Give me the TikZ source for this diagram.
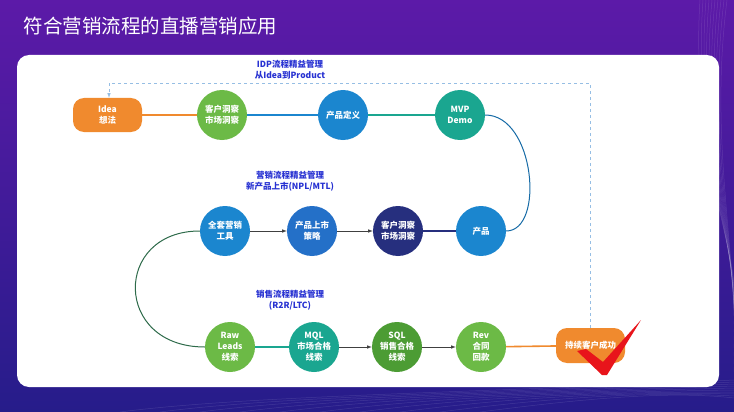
\documentclass[tikz,border=0pt]{standalone}
\usepackage{fontspec}
\setmainfont{Noto Sans CJK SC}
\usetikzlibrary{arrows}
\definecolor{bgtop}{RGB}{92,26,168}
\definecolor{bgbot}{RGB}{38,28,138}
\definecolor{ideaorange}{RGB}{240,138,46}
\definecolor{leafgreen}{RGB}{108,186,70}
\definecolor{deepgreen}{RGB}{76,156,52}
\definecolor{skyblue}{RGB}{27,134,207}
\definecolor{midblue}{RGB}{36,112,200}
\definecolor{navyblue}{RGB}{38,47,126}
\definecolor{seateal}{RGB}{26,166,144}
\definecolor{labelblue}{RGB}{40,50,210}
\definecolor{dashblue}{RGB}{150,190,228}
\definecolor{arcgreen}{RGB}{46,107,74}
\definecolor{checkred}{RGB}{232,20,27}
\newcommand*{\rnd}{12pt}

\begin{document}
\begin{tikzpicture}[x=1pt,y=-1pt]
\tikzset{stage/.style={circle,minimum size=50pt,inner sep=0pt,fill=#1,text=white,align=center,font=\fontsize{8.5}{11}\selectfont\bfseries}};
\tikzset{pill/.style={rectangle,rounded corners=11pt,minimum width=69pt,minimum height=34pt,inner sep=0pt,fill=ideaorange,text=white,align=center,font=\fontsize{8.5}{11}\selectfont\bfseries}};
\tikzset{flowlabel/.style={text=labelblue,align=center,font=\fontsize{8.5}{11}\selectfont\bfseries}};
\tikzset{link/.style={line width=1.6pt,draw=#1}};
\tikzset{push/.style={draw=black!75,line width=0.6pt,-latex}};
\tikzset{feedback/.style={draw=dashblue,dashed,line width=0.6pt,-latex}};

    % background and panel
    \shade[top color=bgtop,bottom color=bgbot] (0,0) rectangle (734,412);
    \useasboundingbox (0,0) rectangle (734,412);
    \foreach \k in {0,...,9}
        \draw[white,opacity=0.12,line width=0.5pt] (700+3*\k,0) .. controls (690+2*\k,150) and (740,260) .. (734,300+8*\k);
    \foreach \k in {0,...,9}
        \draw[white,opacity=0.12,line width=0.5pt] (120+40*\k,412) .. controls (250+40*\k,395) and (500+20*\k,392) .. (734,380+2*\k);
    \fill[white,rounded corners=\rnd] (17,55) rectangle (719,387);
    \node[anchor=west,text=white,font=\fontsize{19.5}{22}\selectfont] (title) at (20,26) {符合营销流程的直播营销应用};

    % IDP
    \node[pill] (idea) at (107.5,115) {Idea\\想法};
    \node[stage=leafgreen] (insight) at (222,115) {客户洞察\\市场洞察};
    \node[stage=skyblue] (define) at (343,115) {产品定义};
    \node[stage=seateal] (mvp) at (460,115) {MVP\\Demo};
    \node[flowlabel] (idplbl) at (290,70) {IDP流程精益管理\\从Idea到Product};

    % NPL/MTL
    \node[stage=skyblue] (tools) at (225,231) {全套营销\\工具};
    \node[stage=midblue] (launch) at (312,231) {产品上市\\策略};
    \node[stage=navyblue] (insight2) at (398,231) {客户洞察\\市场洞察};
    \node[stage=skyblue] (product) at (481,231) {产品};
    \node[flowlabel] (npllbl) at (290,181) {营销流程精益管理\\新产品上市(NPL/MTL)};

    % LTC
    \node[stage=leafgreen] (raw) at (230,347) {Raw\\Leads\\线索};
    \node[stage=seateal] (mql) at (314,347) {MQL\\市场合格\\线索};
    \node[stage=deepgreen] (sql) at (397,347) {SQL\\销售合格\\线索};
    \node[stage=leafgreen] (rev) at (481,347) {Rev\\合同\\回款};
    \node[pill,minimum height=35pt] (success) at (590.5,345.5) {持续客户成功};
    \node[flowlabel] (ltclbl) at (290,300) {销售流程精益管理\\(R2R/LTC)};

    \draw[link=ideaorange] (idea) -- (insight);
    \draw[link=skyblue] (insight) -- (define);
    \draw[link=seateal] (define) -- (mvp);
    \draw[draw=skyblue!80!black,line width=1pt] (mvp.east) .. controls (535,115) and (545,231) .. (product.east);

    \draw[push] (tools) -- (launch);
    \draw[push] (launch) -- (insight2);
    \draw[link=navyblue] (insight2) -- (product);
    \draw[draw=arcgreen,line width=1pt] (tools.west) .. controls (113,231) and (113,347) .. (raw.west);

    \draw[link=seateal] (raw) -- (mql);
    \draw[push] (mql) -- (sql);
    \draw[push] (sql) -- (rev);
    \draw[link=ideaorange] (rev) -- (success);

    \coordinate (loopr) at (590,83);
    \coordinate (loopl) at (109,83);
    \draw[feedback] (success.north -| loopr) -- (loopr) -- (loopl) -- (idea.north -| loopl);

    % check
    \fill[checkred] (577,351) -- (586,349) -- (603,362) -- (641,320) -- (607,375) -- (602,375) -- cycle;
\end{tikzpicture}
\end{document}
